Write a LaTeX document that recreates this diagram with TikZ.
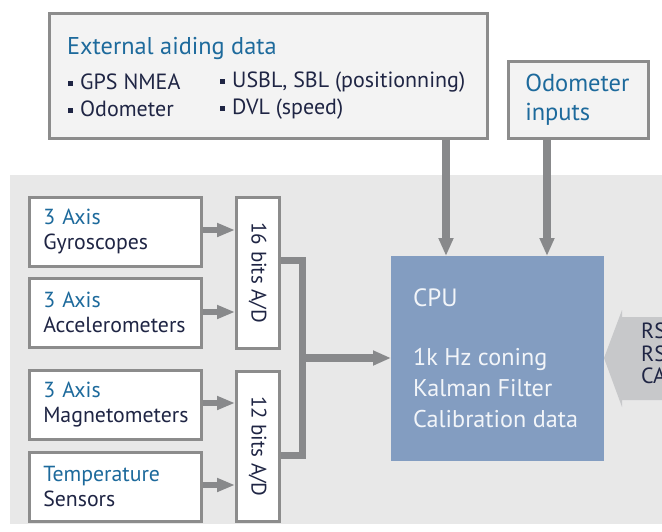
\documentclass[tikz,border=0pt]{standalone}
\usepackage{fontspec}
\setmainfont{PT Sans}
\usetikzlibrary{arrows.meta}
\definecolor{bggray}{HTML}{E8E8E8}
\definecolor{boxfill}{HTML}{F3F3F3}
\definecolor{framegray}{HTML}{8C8C8C}
\definecolor{titleblue}{HTML}{1D6A9C}
\definecolor{navy}{HTML}{1F2544}
\definecolor{cpublue}{HTML}{839DC1}
\definecolor{arrowgray}{HTML}{88898B}
\definecolor{portgray}{HTML}{C7C8CA}
\definecolor{cputext}{HTML}{F2F5F9}
\tikzset{
  frame/.style={draw=framegray, line width=2.5pt, fill=white, anchor=north west, inner sep=0pt},
  sensor/.style={frame, minimum width=172pt, minimum height=69pt, text width=144pt, align=left,
     font=\fontsize{21.8}{25}\selectfont, text=navy},
  adc/.style={frame, minimum width=43pt},
  fat/.style={draw=arrowgray, line width=7.5pt, -{Triangle[width=14pt,length=18pt]}},
  thin/.style={draw=arrowgray, line width=6pt, -{Triangle[width=13pt,length=18pt]}},
  bus/.style={draw=arrowgray, line width=7pt, line join=miter},
  bodytext/.style={anchor=west, inner sep=0pt, text=navy, font=\fontsize{22}{25}\selectfont},
}
\newcommand{\bul}{\raisebox{3.5pt}{\rule{5pt}{5pt}}\hspace{7pt}}
\begin{document}
\begin{tikzpicture}[x=1pt,y=-1pt]
\useasboundingbox (0,0) rectangle (662,531);
\clip (0,0) rectangle (662,531);
% background
\fill[bggray] (10,175) rectangle (680,524);
% external aiding box
\node[frame, fill=boxfill, minimum width=438pt, minimum height=125pt] (ext) at (48,12) {};
\node[anchor=west, inner sep=0pt, text=titleblue, font=\fontsize{24.3}{28}\selectfont] (exttitle) at (67,48) {External aiding data};
\node[bodytext] (b1) at (68,82) {\bul GPS NMEA};
\node[bodytext] (b2) at (68,109) {\bul Odometer};
\node[bodytext] (b3) at (220,82) {\bul USBL, SBL (positionning)};
\node[bodytext] (b4) at (220,109) {\bul DVL (speed)};
% odometer box
\node[frame, fill=boxfill, minimum width=140pt, minimum height=77pt, text width=106pt, align=left,
      text=titleblue, font=\fontsize{24.5}{29}\selectfont] (odo) at (507,60) {Odometer\\inputs};
% sensors
\node[sensor] (gyro) at (28,196) {\textcolor{titleblue}{3 Axis}\\Gyroscopes};
\node[sensor] (acc) at (28,277) {\textcolor{titleblue}{3 Axis}\\Accelerometers};
\node[sensor] (mag) at (28,369) {\textcolor{titleblue}{3 Axis}\\Magnetometers};
\node[sensor] (temp) at (28,451) {\textcolor{titleblue}{Temperature}\\Sensors};
% ADCs
\node[adc, minimum height=151pt] (adcA) at (235,196) {};
\node[rotate=-90, text=navy, font=\fontsize{21}{22}\selectfont, inner sep=0pt] (adcAt) at (adcA.center) {16 bits A/D};
\node[adc, minimum height=150pt] (adcB) at (235,370) {};
\node[rotate=-90, text=navy, font=\fontsize{21}{22}\selectfont, inner sep=0pt] (adcBt) at (adcB.center) {12 bits A/D};
% CPU
\node[fill=cpublue, anchor=north west, minimum width=213pt, minimum height=205pt, inner sep=0pt] (cpu) at (391,256) {};
\node[anchor=west, inner sep=0pt, text=cputext, font=\fontsize{25}{28}\selectfont] (cput) at (413,298) {CPU};
\node[anchor=north west, inner sep=0pt, text=cputext, font=\fontsize{24.2}{31}\selectfont, align=left] (cpul) at (413,348) {1k Hz coning\\Kalman Filter\\Calibration data};
% comm port arrow
\fill[portgray] (604,358) -- (622,310) -- (622,317) -- (680,317) -- (680,400) -- (622,400) -- (622,407) -- cycle;
\node[anchor=north west, inner sep=0pt, text=navy, font=\fontsize{22}{22.5}\selectfont, align=left] (ports) at (641,323) {RS\\RS\\CA};
% sensor arrows
\draw[thin] (gyro.east |- 0,230) -- (adcA.west |- 0,230);
\draw[thin] (acc.east |- 0,312) -- (adcA.west |- 0,312);
\draw[thin] (mag.east |- 0,403) -- (adcB.west |- 0,403);
\draw[thin] (temp.east |- 0,485) -- (adcB.west |- 0,485);
% bus
\draw[bus] (adcA.east |- 0,260) -- (302,260) -- (302,455) -- (adcB.east |- 0,455);
\draw[fat] (302,358) -- (cpu.west |- 0,358);
% top arrows
\draw[fat] (ext.south -| 446,0) -- (cpu.north -| 446,0);
\draw[fat] (odo.south -| 547,0) -- (cpu.north -| 547,0);
\end{tikzpicture}
\end{document}
